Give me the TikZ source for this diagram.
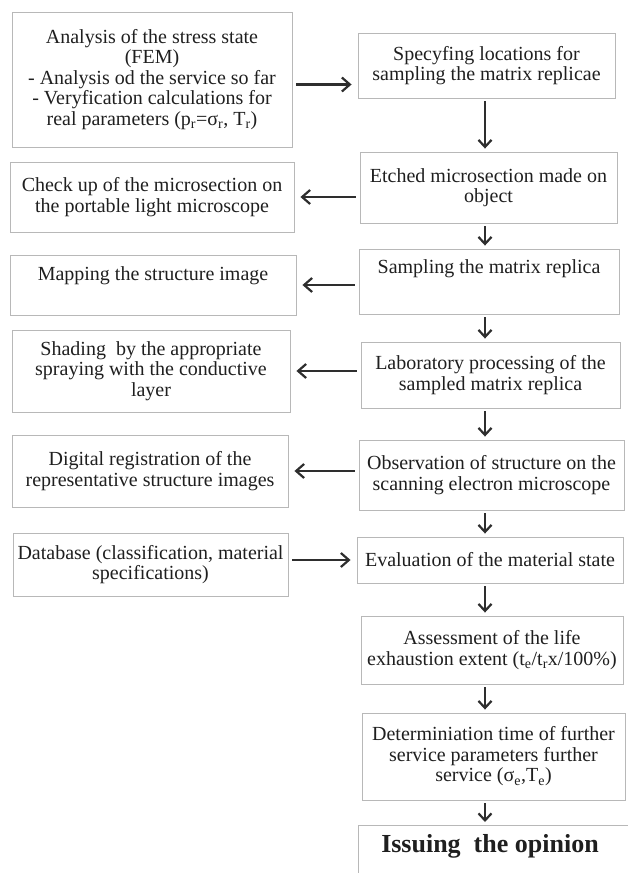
\documentclass[tikz,border=0pt]{standalone}
\usepackage{fontspec}
\setmainfont{Liberation Serif}
\usetikzlibrary{arrows.meta}

\begin{document}
\begin{tikzpicture}[x=1pt, y=-1pt,
    every node/.style={font=\fontsize{20}{20.5}\selectfont, text=black!88},
    box/.style={draw=black!28, line width=0.9pt, align=center, inner sep=0pt},
    harr/.style={draw=black!82, line width=2.2pt, -{Straight Barb[length=8pt,width=14pt]}, shorten <=4pt, shorten >=6pt},
    varr/.style={draw=black!82, line width=2.2pt, -{Straight Barb[length=7pt,width=13pt]}, shorten <=3pt, shorten >=3pt}]
    \useasboundingbox (0,0) rectangle (627,873);

    % right column
    \node[box, minimum width=257pt, minimum height=65pt] (B) at (486.5,65.5) {Specyfing locations for\\ sampling the matrix replicae};
    \node[box, minimum width=257pt, minimum height=71pt] (C) at (488.5,187.5) {Etched microsection made on\\ object};
    \node[box, minimum width=260pt, minimum height=65pt, text depth=29pt] (E) at (489,281.5) {Sampling the matrix replica};
    \node[box, minimum width=259pt, minimum height=66pt] (F) at (490.5,375) {Laboratory processing of the\\ sampled matrix replica};
    \node[box, minimum width=265pt, minimum height=70pt] (G) at (491.5,475) {Observation of structure on the\\ scanning electron microscope};
    \node[box, minimum width=266pt, minimum height=46pt] (H) at (490,560) {Evaluation of the material state};
    \node[box, minimum width=262pt, minimum height=68pt] (I) at (492,650) {Assessment of the life\\ exhaustion extent (t\textsubscript{e}/t\textsubscript{r}x/100\%)};
    \node[box, minimum width=263pt, minimum height=87pt] (J) at (493.5,756.5) {Determiniation time of further\\ service parameters further\\ service (σ\textsubscript{e},T\textsubscript{e})};
    \node[box, anchor=north west, minimum width=320pt, minimum height=90pt] (K) at (358,825) {};
    \node[font=\bfseries\fontsize{26}{28}\selectfont] (Ktext) at (490,846) {Issuing\ \ the opinion};

    % left column
    \node[box, minimum width=280pt, minimum height=135pt] (A) at (152,79.5) {Analysis of the stress state\\ (FEM)\\ - Analysis od the service so far\\ - Veryfication calculations for\\ real parameters (p\textsubscript{r}=σ\textsubscript{r}, T\textsubscript{r})};
    \node[box, minimum width=284pt, minimum height=70pt] (D) at (152,197) {Check up of the microsection on\\ the portable light microscope};
    \node[box, minimum width=286pt, minimum height=60pt, text depth=23pt] (M) at (153,285) {Mapping the structure image};
    \node[box, minimum width=278pt, minimum height=82pt] (S) at (151,371) {Shading\ \ by the appropriate\\ spraying with the conductive\\ layer};
    \node[box, minimum width=276pt, minimum height=72pt] (R) at (150,471) {Digital registration of the\\ representative structure images};
    \node[box, minimum width=275pt, minimum height=63pt] (DB) at (150.5,564.5) {Database (classification, material\\ specifications)};

    % arrows
    \coordinate (spine) at (485,0);
    \foreach \u/\v in {B/C, C/E, E/F, F/G, G/H, H/I, I/J, J/K}
        \draw[varr] (spine |- \u.south) -- (spine |- \v.north);

    \coordinate (ab) at ([yshift=-5pt]A.east);
    \draw[harr] (ab) -- (ab -| B.west);
    \draw[harr] (C.west |- D.east) -- (D.east);
    \draw[harr] (E.west |- M.east) -- (M.east);
    \draw[harr] (F.west |- S.east) -- (S.east);
    \draw[harr] (G.west |- R.east) -- (R.east);
    \draw[harr] (DB.east |- H.west) -- (H.west);
\end{tikzpicture}
\end{document}
